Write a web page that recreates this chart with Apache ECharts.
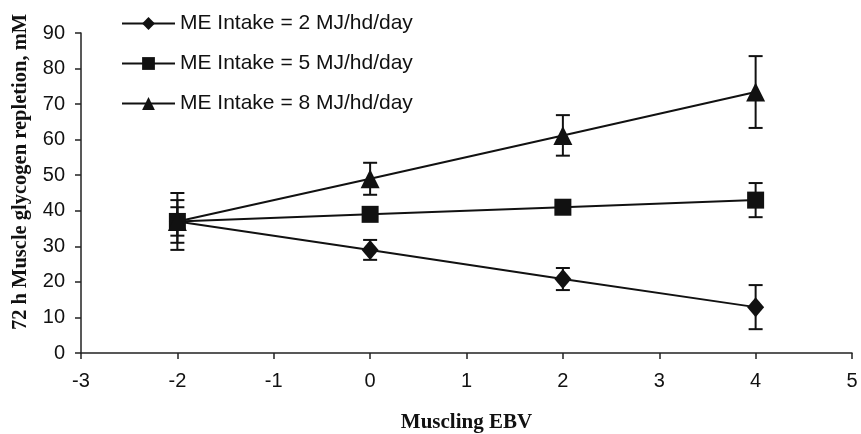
<!DOCTYPE html>
<html>
<head>
<meta charset="utf-8">
<script src="https://cdn.jsdelivr.net/npm/echarts@6/dist/echarts.min.js"></script>
<style>html,body{margin:0;padding:0;background:#fff}#c{width:861px;height:434px}</style>
</head>
<body>
<div id="c"></div>
<script>
var xValues = [-2, 0, 2, 4];
var seriesNames = ['ME Intake = 2 MJ/hd/day', 'ME Intake = 5 MJ/hd/day', 'ME Intake = 8 MJ/hd/day'];
var me2 = [37, 29, 20.8, 12.9];
var me5 = [37, 39, 41, 43];
var me8 = [37, 49, 61.2, 73.4];
var me2Err = [4, 2.8, 3.1, 6.2];
var me5Err = [6, 1.5, 1.5, 4.8];
var me8Err = [8, 4.5, 5.7, 10.1];
var symbols = ['diamond', 'rect', 'triangle'];
var symbolSizes = [[17, 20], [17, 17], [19, 19]];
var yTicks = [0, 10, 20, 30, 40, 50, 60, 70, 80, 90];
var xName = 'Muscling EBV';
var yName = '72 h Muscle glycogen repletion, mM';

var allVals = [me2, me5, me8];
var allErr = [me2Err, me5Err, me8Err];

function errRender(params, api) {
  var x = api.value(0), lo = api.value(1), hi = api.value(2);
  var pLo = api.coord([x, lo]), pHi = api.coord([x, hi]);
  var w = 7;
  var st = {stroke: '#111', lineWidth: 2};
  return {type: 'group', children: [
    {type: 'line', shape: {x1: pLo[0], y1: pLo[1], x2: pHi[0], y2: pHi[1]}, style: st},
    {type: 'line', shape: {x1: pLo[0]-w, y1: pLo[1], x2: pLo[0]+w, y2: pLo[1]}, style: st},
    {type: 'line', shape: {x1: pHi[0]-w, y1: pHi[1], x2: pHi[0]+w, y2: pHi[1]}, style: st}
  ]};
}

var series = [];
for (var i = 0; i < 3; i++) {
  var ed = xValues.map(function (x, j) { return [x, allVals[i][j] - allErr[i][j], allVals[i][j] + allErr[i][j]]; });
  series.push({
    type: 'custom', renderItem: errRender, data: ed, z: 1,
    encode: {x: 0, y: [1, 2]}, silent: true
  });
}
for (var i = 0; i < 3; i++) {
  series.push({
    name: seriesNames[i], type: 'line', z: 3,
    data: xValues.map(function (x, j) { return [x, allVals[i][j]]; }),
    symbol: symbols[i], symbolSize: symbolSizes[i], showAllSymbol: true,
    lineStyle: {color: '#111', width: 2},
    itemStyle: {color: '#111', borderWidth: 0},
    emphasis: {disabled: true}
  });
}

var chart = echarts.init(document.getElementById('c'), null, {renderer: 'canvas'});
chart.setOption({
  animation: false,
  backgroundColor: '#fff',
  grid: {left: 81, right: 9, top: 33, bottom: 81, containLabel: false, outerBoundsMode: 'none'},
  legend: {
    orient: 'vertical', left: 116, top: 8, itemWidth: 53, itemHeight: 16, itemGap: 19,
    data: seriesNames,
    textStyle: {fontFamily: 'Liberation Sans, Arial', fontSize: 21, color: '#111'}
  },
  graphic: [{
    type: 'text', x: 21, y: 172, rotation: Math.PI / 2,
    style: {text: yName, fontFamily: 'Liberation Serif', fontWeight: 'bold', fontSize: 20.5,
      fill: '#111', align: 'center', verticalAlign: 'middle'}
  }],
  xAxis: {
    type: 'value', min: -3, max: 5, interval: 1,
    name: xName, nameLocation: 'middle', nameGap: 59,
    nameTextStyle: {fontFamily: 'Liberation Serif', fontWeight: 'bold', fontSize: 21, color: '#111'},
    axisLine: {onZero: false, lineStyle: {color: '#222', width: 1.5}},
    axisTick: {show: true, length: 6, inside: false, lineStyle: {color: '#222', width: 1.5}},
    axisLabel: {fontFamily: 'Liberation Sans, Arial', fontSize: 20, color: '#111', margin: 18},
    splitLine: {show: false}
  },
  yAxis: {
    type: 'value', min: 0, max: 90, interval: 10,
    axisLine: {show: true, onZero: false, lineStyle: {color: '#222', width: 1.5}},
    axisTick: {show: true, length: 6, lineStyle: {color: '#222', width: 1.5}},
    axisLabel: {fontFamily: 'Liberation Sans, Arial', fontSize: 20, color: '#111', margin: 16,
      formatter: function (v) { return yTicks.indexOf(v) >= 0 ? String(v) : ''; }},
    splitLine: {show: false}
  },
  series: series
});
</script>
</body>
</html>
